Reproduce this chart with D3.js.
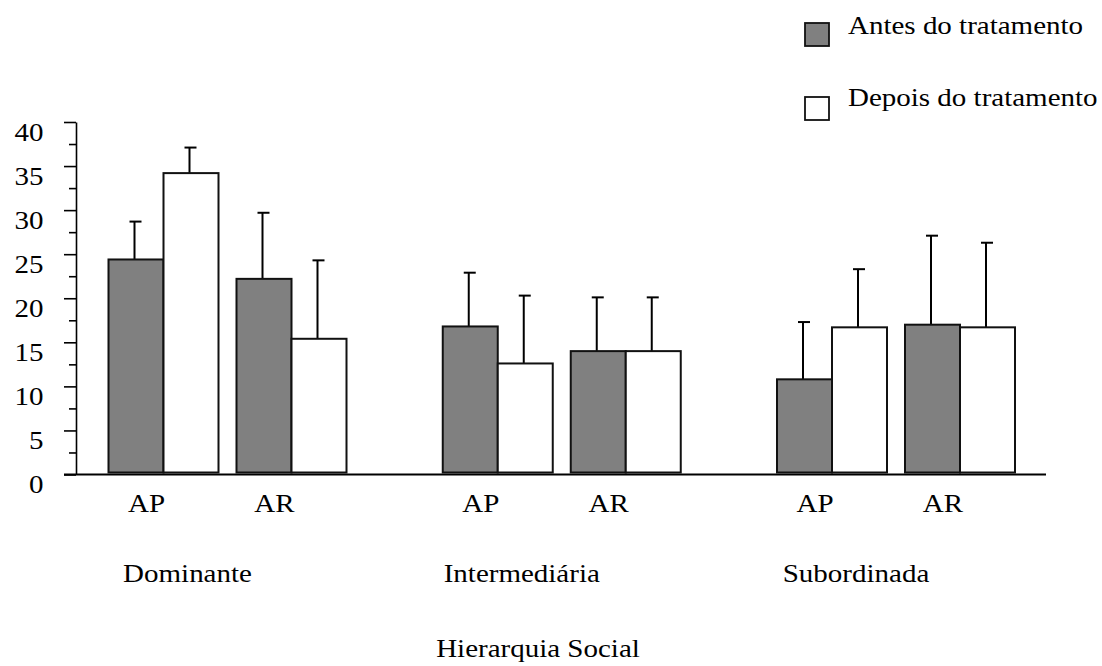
<!DOCTYPE html>
<html>
<head>
<meta charset="utf-8">
<script src="https://cdn.jsdelivr.net/npm/d3@7"></script>
<style>
  html, body { margin: 0; padding: 0; background: #fff; }
  svg { display: block; }
  text { font-family: "Liberation Serif", "Times New Roman", serif; fill: #000; }
</style>
</head>
<body>
<svg id="chart" width="1102" height="666"></svg>
<script>
// Social hierarchy groups and behaviour categories
const groups = ["Dominante", "Intermediária", "Subordinada"];
const behaviours = ["AP", "AR"];
const series = ["Antes do tratamento", "Depois do tratamento"];

// Means, in order: Dominante AP, Dominante AR, Intermediária AP, Intermediária AR, Subordinada AP, Subordinada AR
const antesMean   = [24.4, 22.2, 16.8, 14.0, 10.8, 17.0];
const antesErr    = [4.3, 7.5, 6.1, 6.1, 6.5, 10.1];
const depoisMean  = [34.2, 15.4, 12.6, 14.0, 16.7, 16.7];
const depoisErr   = [2.9, 8.9, 7.7, 6.1, 6.6, 9.6];

const yTicks = [0, 5, 10, 15, 20, 25, 30, 35, 40];
const yMinorTicks = [2.5, 7.5, 12.5, 17.5, 22.5, 27.5, 32.5, 37.5];
const xAxisTitle = "Hierarquia Social";

const FONT = 25, STRETCH = 1.16;

const svg = d3.select("#chart");

const y = d3.scaleLinear().domain([0, 40]).range([474.5, 122]);
const xGroup = d3.scalePoint().domain(groups).range([227.5, 896]);
const xBeh = d3.scaleBand().domain(behaviours).range([-119, 119]).paddingInner(18 / 128);
const xSer = d3.scaleBand().domain(series).range([0, xBeh.bandwidth()]);
const fill = d3.scaleOrdinal().domain(series).range(["#808080", "#ffffff"]);

// Flatten the data into one record per bar
const bars = [];
groups.forEach((g, gi) => {
  behaviours.forEach((b, bi) => {
    const i = gi * behaviours.length + bi;
    bars.push({ g, b, s: series[0], mean: antesMean[i], err: antesErr[i] });
    bars.push({ g, b, s: series[1], mean: depoisMean[i], err: depoisErr[i] });
  });
});
const barX = d => xGroup(d.g) + xBeh(d.b) + xSer(d.s);

function label(sel, txt, x, yy, anchor) {
  sel.append("text")
    .attr("transform", `translate(${x},${yy}) scale(${STRETCH},1)`)
    .attr("text-anchor", anchor)
    .attr("font-size", FONT)
    .text(txt);
}

// Y axis: major ticks with a domain line, then minor ticks
const axisX = 76;
svg.append("g")
  .attr("transform", `translate(${axisX},0)`)
  .call(d3.axisLeft(y).tickValues(yTicks).tickSize(12).tickSizeOuter(0).tickFormat(""))
  .call(g => g.selectAll("line, path").attr("stroke", "#000").attr("stroke-width", 1.6));
svg.append("g")
  .attr("transform", `translate(${axisX},0)`)
  .call(d3.axisLeft(y).tickValues(yMinorTicks).tickSize(7).tickFormat(""))
  .call(g => g.select(".domain").remove())
  .call(g => g.selectAll("line").attr("stroke", "#000").attr("stroke-width", 1.6));

const yLabels = svg.append("g");
yTicks.forEach(v => label(yLabels, String(v), 43.5, y(v) + 18.5, "end"));

// Baseline
svg.append("line")
  .attr("x1", 64).attr("x2", 1046)
  .attr("y1", y(0)).attr("y2", y(0))
  .attr("stroke", "#000").attr("stroke-width", 1.8);

// Error bars (upper whisker only)
const eb = svg.append("g").attr("stroke", "#000").attr("stroke-width", 2);
bars.forEach(d => {
  const cx = barX(d) + xSer.bandwidth() / 2 - 1.5;
  eb.append("line").attr("x1", cx).attr("x2", cx).attr("y1", y(d.mean)).attr("y2", y(d.mean + d.err));
  eb.append("line").attr("x1", cx - 5).attr("x2", cx + 7).attr("y1", y(d.mean + d.err)).attr("y2", y(d.mean + d.err));
});

// Bars
svg.append("g").selectAll("rect").data(bars).join("rect")
  .attr("x", barX)
  .attr("width", xSer.bandwidth())
  .attr("y", d => y(d.mean))
  .attr("height", d => y(0) - 2 - y(d.mean))
  .attr("fill", d => fill(d.s))
  .attr("stroke", "#111")
  .attr("stroke-width", 2);

// Behaviour labels under each pair
const xl = svg.append("g");
groups.forEach(g => behaviours.forEach(b => {
  label(xl, b, xGroup(g) + xBeh(b) + xBeh.bandwidth() / 2 - 17, 512, "middle");
}));
// Group labels
groups.forEach(g => label(xl, g, xGroup(g) - 40, 582, "middle"));
// Axis title
label(xl, xAxisTitle, 538, 657, "middle");

// Legend
const lg = svg.append("g");
series.forEach((s, i) => {
  const top = 23 + i * 74;
  lg.append("rect").attr("x", 805).attr("y", top).attr("width", 24).attr("height", 23)
    .attr("fill", fill(s)).attr("stroke", "#111").attr("stroke-width", 1.8);
  label(lg, s, 848, 34 + i * 72, "start");
});
</script>
</body>
</html>
